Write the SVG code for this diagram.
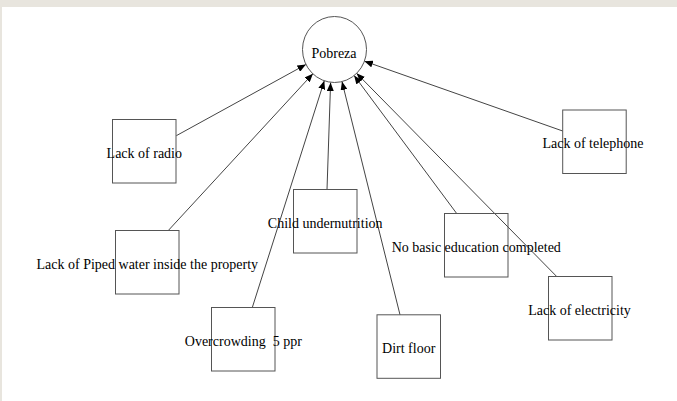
<svg xmlns="http://www.w3.org/2000/svg" width="677" height="401" viewBox="0 0 677 401">
  <style>
    .frame { fill: #e8e5de; }
    .box { fill: none; stroke: #555555; stroke-width: 1; }
    .hub { fill: #ffffff; stroke: #555555; stroke-width: 1; }
    .lbl { font-family: "Liberation Serif", "Times New Roman", serif; font-size: 14px; fill: #000000; text-anchor: middle; white-space: pre; }
    .edge { stroke: #444444; stroke-width: 1; fill: none; marker-end: url(#arrow); }
  </style>
  <defs>
    <marker id="arrow" markerUnits="userSpaceOnUse" markerWidth="9" markerHeight="7" refX="8.5" refY="3.5" orient="auto">
      <path d="M0,0 L8.5,3.5 L0,7 z" fill="#000000"/>
    </marker>
  </defs>

  <!-- page background with light border strip -->
  <rect x="0" y="0" width="677" height="401" class="frame"/>
  <rect x="2" y="7" width="675" height="394" fill="#ffffff"/>

  <!-- connectors: each indicator points to the central concept -->
  <g id="connectors">
    <line class="edge" x1="176.3" y1="135.7" x2="305.9" y2="64.5"/>
    <line class="edge" x1="168.3" y1="230.5" x2="312.9" y2="73.7"/>
    <line class="edge" x1="252.3" y1="307.5" x2="324.3" y2="80.8"/>
    <line class="edge" x1="327" y1="189.5" x2="330.6" y2="82.5"/>
    <line class="edge" x1="400" y1="314.8" x2="342.0" y2="81.6"/>
    <line class="edge" x1="456.7" y1="213.5" x2="354.1" y2="75.5"/>
    <line class="edge" x1="556.7" y1="276.5" x2="356.6" y2="73.3"/>
    <line class="edge" x1="562.7" y1="131" x2="364.4" y2="61.2"/>
  </g>

  <g id="pobreza">
    <ellipse class="hub" cx="334.5" cy="49.5" rx="32" ry="33"/>
    <text class="lbl" x="334" y="57.5">Pobreza</text>
  </g>

  <g id="lack-of-radio">
    <rect class="box" x="112.5" y="119.5" width="63.5" height="63.5"/>
    <text class="lbl" x="144.3" y="157.5">Lack of radio</text>
  </g>

  <g id="lack-of-piped-water">
    <rect class="box" x="115.5" y="230.5" width="63.5" height="63.5"/>
    <text class="lbl" x="147.3" y="268.5">Lack of Piped water inside the property</text>
  </g>

  <g id="overcrowding">
    <rect class="box" x="211.5" y="307.5" width="63.5" height="63.5"/>
    <text class="lbl" x="243.3" y="345.8" xml:space="preserve">Overcrowding  5 ppr</text>
  </g>

  <g id="child-undernutrition">
    <rect class="box" x="293.5" y="189.5" width="63.5" height="63.5"/>
    <text class="lbl" x="325.2" y="227.5">Child undernutrition</text>
  </g>

  <g id="dirt-floor">
    <rect class="box" x="377" y="314.8" width="63.5" height="63.5"/>
    <text class="lbl" x="408.7" y="353">Dirt floor</text>
  </g>

  <g id="no-basic-education">
    <rect class="box" x="444.5" y="213.5" width="63.5" height="63.5"/>
    <text class="lbl" x="476.3" y="251.5">No basic education completed</text>
  </g>

  <g id="lack-of-electricity">
    <rect class="box" x="548.5" y="276.5" width="63.5" height="63.5"/>
    <text class="lbl" x="579.5" y="314.8">Lack of electricity</text>
  </g>

  <g id="lack-of-telephone">
    <rect class="box" x="562.7" y="110" width="63.5" height="63.5"/>
    <text class="lbl" x="593" y="148.3">Lack of telephone</text>
  </g>
</svg>
